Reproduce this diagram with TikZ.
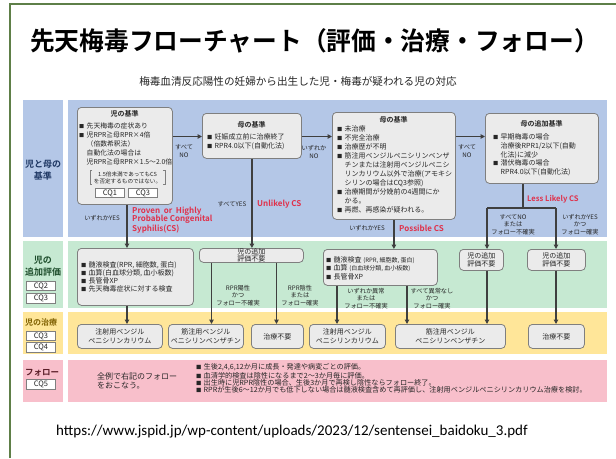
\documentclass[tikz,border=0pt]{standalone}
\usepackage{fontspec}
\setmainfont{Noto Sans CJK JP}[BoldFont={Noto Sans CJK JP Bold}]
\newfontfamily\urlfont{Carlito}
\usetikzlibrary{arrows.meta}
\definecolor{frameg}{HTML}{5E7F48}
\definecolor{blueb}{HTML}{B4C7E7}
\definecolor{greenb}{HTML}{C6E9D2}
\definecolor{yellowb}{HTML}{FFE699}
\definecolor{pinkb}{HTML}{F8BFCB}
\definecolor{boxfill}{HTML}{EBEBEB}
\definecolor{boxline}{HTML}{7F7F7F}
\definecolor{arrowc}{HTML}{3F3F3F}
\definecolor{csred}{HTML}{E0304A}
\definecolor{txtc}{HTML}{262626}
\definecolor{blabel}{HTML}{1F3864}
\definecolor{glabel}{HTML}{1E4E2C}
\definecolor{ylabel}{HTML}{7F6000}
\definecolor{plabel}{HTML}{5A1E28}
\newcommand\fs[2]{\fontsize{#1}{#2}\selectfont}
\newcommand\bl{\makebox[7.5pt][l]{\scalebox{0.75}{■}}}
\newcommand\cl{\hspace*{7.5pt}}
\tikzset{
  box/.style={draw=boxline, fill=boxfill, rounded corners=4pt, line width=0.8pt, inner sep=0pt, anchor=north west},
  cq/.style={draw=boxline, fill=white, line width=0.6pt, minimum width=29pt, minimum height=9.5pt, inner sep=0pt, font=\fs{7.5}{8}, text=txtc},
  arr/.style={draw=arrowc, line width=1.3pt, -{Triangle[length=4.5pt,width=4.5pt]}},
  ln/.style={draw=arrowc, line width=1.3pt},
  brk/.style={draw=boxline, line width=0.5pt},
  elab/.style={font=\fs{6.2}{7.3}, align=center, inner sep=0pt, text=txtc},
  cslab/.style={font=\fs{8}{8.6}\bfseries, align=left, inner sep=0pt, text=csred},
  btitle/.style={font=\fs{7}{8}\bfseries, inner sep=0pt, text=txtc},
  btext/.style={font=\fs{7}{9}, align=left, inner sep=0pt, text=txtc, anchor=north west},
  ctext/.style={font=\fs{7}{8.5}, align=center, inner sep=0pt, text=txtc},
  rowlab/.style={font=\fs{9}{11.5}\bfseries, align=center, inner sep=0pt},
}
\begin{document}
\begin{tikzpicture}[x=1pt,y=-1pt]
\useasboundingbox (0,0) rectangle (616,458);
\fill[white] (0,0) rectangle (616,458);
\draw[frameg, line width=2pt] (10,458) -- (10,4) -- (616,4);

% title
\node[anchor=west, inner sep=0pt] (title) at (30,41) {\scalebox{0.97}[1]{\fs{25.5}{30}\bfseries 先天梅毒フローチャート（評価・治療・フォロー）}};
\node[inner sep=0pt, font=\fs{10.6}{12}, text=txtc] (sub) at (298,81) {梅毒血清反応陽性の妊婦から出生した児・梅毒が疑われる児の対応};

% row backgrounds
\fill[blueb] (23,100) rectangle (63,237);
\fill[blueb] (68,100) rectangle (607,237);
\fill[greenb] (23,241) rectangle (63,308);
\fill[greenb] (68,241) rectangle (607,308);
\fill[yellowb] (23,312) rectangle (63,354);
\fill[yellowb] (68,312) rectangle (607,354);
\fill[pinkb] (23,360) rectangle (63,402);
\fill[pinkb] (68,360) rectangle (607,402);

% row labels
\node[rowlab, text=blabel] (l1) at (43,170) {児と母の\\基準};
\node[rowlab, text=glabel] (l2) at (43,266) {児の\\追加評価};
\node[cq] (cq2) at (41,286) {CQ2};
\node[cq] (cq3a) at (41,298.5) {CQ3};
\node[rowlab, font=\fs{8}{9}\bfseries, text=ylabel] (l3) at (41,322) {児の治療};
\node[cq] (cq3b) at (41,336) {CQ3};
\node[cq] (cq4) at (41,347.5) {CQ4};
\node[rowlab, font=\fs{8.5}{9}\bfseries, text=plabel] (l4) at (42,373) {フォロー};
\node[cq] (cq5) at (41,384.5) {CQ5};

% blue row boxes
\node[box, minimum width=95pt, minimum height=97pt] (b1) at (77,107) {};
\node[box, minimum width=99pt, minimum height=45pt] (b2) at (202,113) {};
\node[box, minimum width=123pt, minimum height=107pt] (b3) at (332,112) {};
\node[box, minimum width=113pt, minimum height=70pt] (b4) at (485,113) {};

\node[btitle] (b1t) at (124.5,114) {児の基準};
\node[btext, font=\fs{6.8}{9}] (b1x) at (79,122.5) {\bl 先天梅毒の症状あり\\\bl 児RPR≧母RPR×4倍\\\cl（倍数希釈法）\\\cl 自動化法の場合は\\\cl 児RPR≧母RPR×1.5～2.0倍};
\node[inner sep=0pt, align=center, font=\fs{5.6}{6.8}, text=txtc] (b1n) at (127.5,177.5) {1.5倍未満であってもCS\\を否定するものではない。};
\draw[brk] ([xshift=-1.5pt,yshift=1pt]b1n.north west) -- ++(-2,0) -- ([xshift=-3.5pt,yshift=-1pt]b1n.south west) -- ++(2,0);
\draw[brk] ([xshift=1.5pt,yshift=1pt]b1n.north east) -- ++(2,0) -- ([xshift=3.5pt,yshift=-1pt]b1n.south east) -- ++(-2,0);
\node[cq] (cq1) at (110,193) {CQ1};
\node[cq] (cq3c) at (143,193) {CQ3};

\node[btitle] (b2t) at (251.5,125) {母の基準};
\node[btext] (b2x) at (207,133.5) {\bl 妊娠成立前に治療終了\\\bl RPR4.0以下(自動化法)};

\node[btitle] (b3t) at (393.5,120) {母の基準};
\node[btext] (b3x) at (337,125.5) {\bl 未治療\\\bl 不完全治療\\\bl 治療歴が不明\\\bl 筋注用ベンジルペニシリンベンザ\\\cl チンまたは注射用ベンジルペニシ\\\cl リンカリウム以外で治療(アモキシ\\\cl シリンの場合はCQ3参照)\\\bl 治療期間が分娩前の4週間にか\\\cl かる。\\\bl 再燃、再感染が疑われる。};

\node[btitle] (b4t) at (541.5,124) {母の追加基準};
\node[btext, font=\fs{7}{8.75}] (b4x) at (493,133.5) {\bl 早期梅毒の場合\\\cl 治療後RPR1/2以下(自動\\\cl 化法)に減少\\\bl 潜伏梅毒の場合\\\cl RPR4.0以下(自動化法)};

% green row boxes
\node[box, minimum width=116pt, minimum height=57pt] (g1) at (77,248) {};
\node[box, minimum width=104pt, minimum height=14pt] (g2) at (199,248) {};
\node[box, minimum width=114pt, minimum height=36pt] (g3) at (323,249) {};
\node[box, minimum width=44pt, minimum height=21pt] (g4) at (459,249) {};
\node[box, minimum width=58pt, minimum height=21pt] (g5) at (527,249) {};

\node[btext, font=\fs{7}{8}] (g1x) at (81,261) {\bl 髄液検査(RPR, 細胞数, 蛋白)\\\bl 血算(白血球分類, 血小板数)\\\bl 長管骨XP\\\bl 先天梅毒症状に対する検査};
\node[ctext, font=\fs{7}{7.5}] (g2x) at (g2.center) {児の追加\\評価不要};
\node[btext, font=\fs{7}{8.5}] (g3x) at (326,256) {\bl 髄液検査 {\fs{6}{8.5}(RPR, 細胞数, 蛋白)}\\\bl 血算 {\fs{6}{8.5}(白血球分類, 血小板数)}\\\bl 長管骨XP};
\node[ctext, font=\fs{7}{7.5}] (g4x) at (g4.center) {児の追加\\評価不要};
\node[ctext, font=\fs{7}{7.5}] (g5x) at (g5.center) {児の追加\\評価不要};

% treatment boxes
\node[box, minimum width=85pt, minimum height=24pt] (t1) at (77,324) {};
\node[box, minimum width=75pt, minimum height=24pt] (t2) at (168,324) {};
\node[box, minimum width=52pt, minimum height=24pt] (t3) at (251,324) {};
\node[box, minimum width=76pt, minimum height=24pt] (t4) at (309,324) {};
\node[box, minimum width=110pt, minimum height=24pt] (t5) at (395,324) {};
\node[box, minimum width=56pt, minimum height=24pt] (t6) at (528,324) {};
\node[ctext] (t1x) at (t1.center) {注射用ベンジル\\ペニシリンカリウム};
\node[ctext] (t2x) at (t2.center) {筋注用ベンジル\\ペニシリンベンザチン};
\node[ctext] (t3x) at (t3.center) {治療不要};
\node[ctext] (t4x) at (t4.center) {注射用ベンジル\\ペニシリンカリウム};
\node[ctext] (t5x) at (t5.center) {筋注用ベンジル\\ペニシリンベンザチン};
\node[ctext] (t6x) at (t6.center) {治療不要};

% follow-up
\node[inner sep=0pt, anchor=north west, align=left, font=\fs{8}{8.5}, text=txtc] (fa) at (97,373) {全例で右記のフォロー\\をおこなう。};
\node[btext, font=\fs{7.15}{7.1}] (fb) at (196,363.5) {\bl 生後2,4,6,12か月に成長・発達や病変ごとの評価。\\\bl 血清学的検査は陰性になるまで2～3か月毎に評価。\\\bl 出生時に児RPR陰性の場合、生後3か月で再検し陰性ならフォロー終了。\\\bl RPRが生後6～12か月でも低下しない場合は髄液検査含めて再評価し、注射用ベンジルペニシリンカリウム治療を検討。};

% URL
\node[anchor=west, inner sep=0pt, font=\urlfont\fs{15}{16}] (url) at (56,432) {https://www.jspid.jp/wp-content/uploads/2023/12/sentensei\_baidoku\_3.pdf};

% coordinates
\coordinate (r) at (0,136.5);
\coordinate (sp) at (523,208);
\coordinate (jl) at (487,208);
\coordinate (jr) at (556,208);
\coordinate (x1) at (127,0);
\coordinate (x2) at (211.5,0);
\coordinate (x3) at (276.5,0);
\coordinate (x4) at (337,0);
\coordinate (x5) at (407,0);

% connectors, blue row
\draw[arr] (b1.east |- r) -- (b2.west |- r);
\draw[arr] (b2.east |- r) -- (b3.west |- r);
\draw[arr] (b3.east |- r) -- (b4.west |- r);
\draw[arr] (b1.south -| x1) -- (g1.north -| x1);
\draw[arr] (b2.south) -- (b2.south |- g2.north);
\draw[arr] (b3.south) -- (b3.south |- g3.north);
\draw[ln] (b4.south -| sp) -- (sp);
\draw[ln] (jl) -- (jr);
\draw[arr] (jl) -- (jl |- g4.north);
\draw[arr] (jr) -- (jr |- g5.north);

% connectors, green row
\draw[arr] (g1.south -| x1) -- (t1.north -| x1);
\draw[arr] (g2.south -| x2) -- (t2.north -| x2);
\draw[arr] (g2.south -| x3) -- (t3.north -| x3);
\draw[arr] (g3.south -| x4) -- (t4.north -| x4);
\draw[arr] (g3.south -| x5) -- (t5.north -| x5);
\draw[arr] (g4.south -| jl) -- (t5.north -| jl);
\draw[arr] (g5.south -| jr) -- (t6.north -| jr);

% connector labels
\node[elab] (e1) at (184,151) {すべて\\NO};
\node[elab] (e2) at (314,152) {いずれか\\NO};
\node[elab] (e3) at (467,151) {すべて\\NO};
\node[elab] (e4) at (102,218) {いずれかYES};
\node[elab] (e5) at (232,204) {すべてYES};
\node[elab] (e6) at (367,228) {いずれかYES};
\node[elab] (e7) at (513,224.5) {すべてNO\\または\\フォロー不確実};
\node[elab] (e8) at (580,224.5) {いずれかYES\\かつ\\フォロー確実};
\node[elab] (e9) at (238,295.5) {RPR陽性\\かつ\\フォロー不確実};
\node[elab] (e10) at (300,295.5) {RPR陰性\\または\\フォロー確実};
\node[elab] (e11) at (366,298.5) {いずれか異常\\または\\フォロー不確実};
\node[elab] (e12) at (432,298.5) {すべて異常なし\\かつ\\フォロー確実};

\node[cslab, anchor=north west] (cs1) at (132,206.5) {Proven\ \ or\ \ Highly\\Probable Congenital\\Syphilis(CS)};
\node[cslab, anchor=west] (cs2) at (257,204) {Unlikely CS};
\node[cslab, anchor=west] (cs3) at (399,228) {Possible CS};
\node[cslab, anchor=west, font=\fs{7.6}{8}\bfseries] (cs4) at (527,199) {Less Likely CS};
\end{tikzpicture}
\end{document}
